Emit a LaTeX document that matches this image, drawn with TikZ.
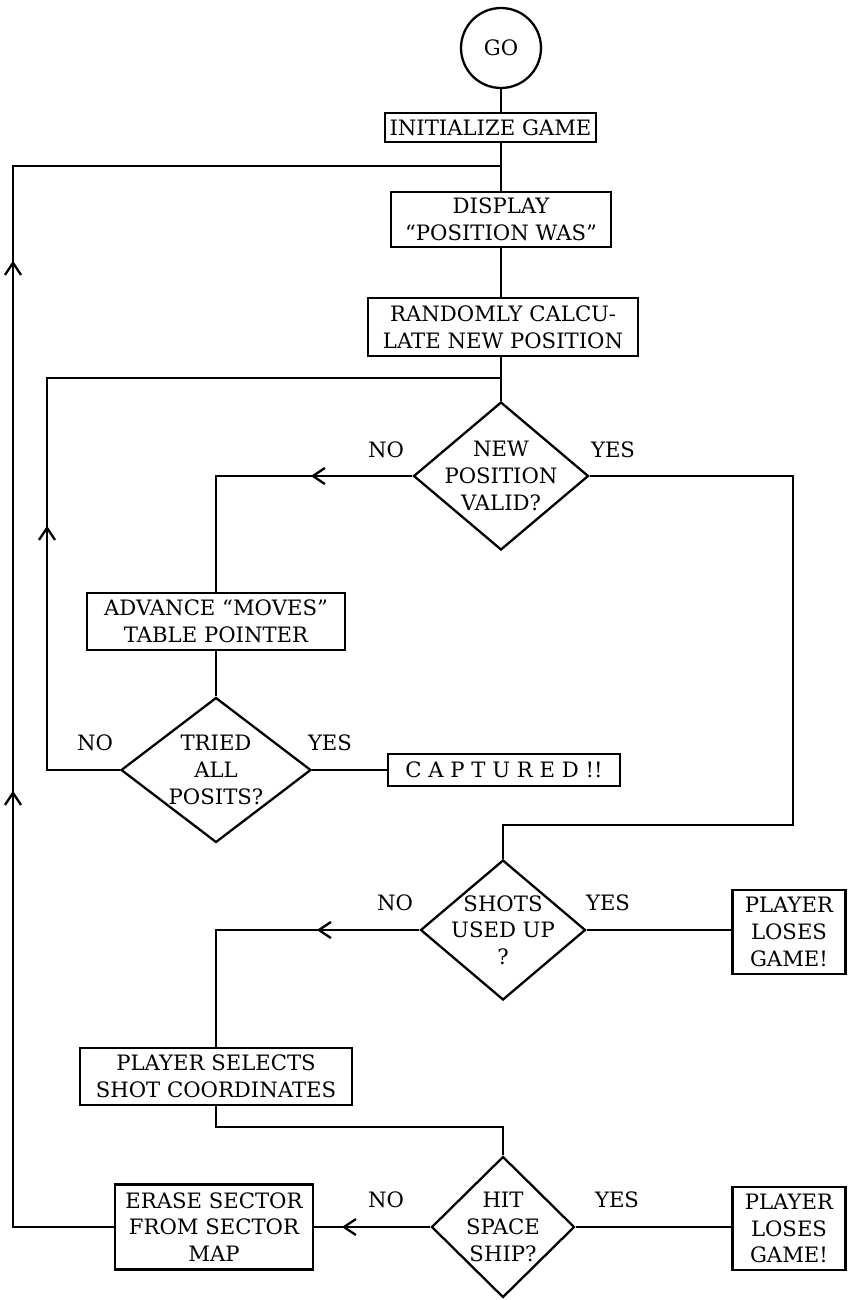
\documentclass[tikz,border=0pt]{standalone}
\usepackage{fontspec}
\setmainfont{DejaVu Serif}
\usetikzlibrary{shapes.geometric,arrows.meta,decorations.markings}
\begin{document}
\begin{tikzpicture}[x=0.5pt,y=-0.5pt,line width=1.15pt,
  every node/.style={font=\fontsize{10.6}{13.3}\selectfont},
  box/.style={draw,rectangle,inner sep=0pt,align=center},
  decision/.style={draw,diamond,inner sep=-8pt,align=center},
  lbl/.style={inner sep=0pt},
  arrowat/.style={postaction={decorate,decoration={markings,
     mark=at position #1 with {\arrow{Straight Barb[length=6pt,width=8pt]}}}}}]
\useasboundingbox (0,0) rectangle (847,1300);

% nodes
\node[draw,circle,minimum size=40pt,inner sep=0pt] (go) at (501,48) {GO};
\node[box,minimum width=105.5pt,minimum height=14.5pt] (init) at (490.5,127.5) {INITIALIZE GAME};
\node[box,minimum width=110pt,minimum height=27.5pt] (display) at (501,219.5) {DISPLAY\\``POSITION WAS''};
\node[box,minimum width=135pt,minimum height=29pt] (random) at (503,327) {RANDOMLY CALCU-\\LATE NEW POSITION};
\node[decision,minimum width=87.5pt,minimum height=74pt] (new) at (501,476) {NEW\\POSITION\\VALID?};
\node[box,minimum width=129pt,minimum height=28.5pt] (advance) at (216,621.5) {ADVANCE ``MOVES''\\TABLE POINTER};
\node[decision,minimum width=95pt,minimum height=72.5pt] (tried) at (216,770) {TRIED\\ALL\\POSITS?};
\node[box,minimum width=116pt,minimum height=16pt] (captured) at (504,770) {C A P T U R E D !!};
\node[decision,minimum width=82.5pt,minimum height=70pt] (shots) at (503,930) {SHOTS\\USED UP\\?};
\node[box,minimum width=56.5pt,minimum height=42pt] (lose1) at (789,932) {PLAYER\\LOSES\\GAME!};
\node[box,minimum width=136pt,minimum height=28.5pt] (select) at (216,1076.5) {PLAYER SELECTS\\SHOT COORDINATES};
\node[decision,minimum width=71.5pt,minimum height=70.5pt] (hit) at (503,1227) {HIT\\SPACE\\SHIP?};
\node[box,minimum width=99pt,minimum height=42.5pt] (erase) at (214,1227) {ERASE SECTOR\\FROM SECTOR\\MAP};
\node[box,minimum width=56.5pt,minimum height=41.5pt] (lose2) at (789,1228.5) {PLAYER\\LOSES\\GAME!};

% labels
\node[lbl] (l1) at (386,450) {NO};
\node[lbl] (l2) at (613,450) {YES};
\node[lbl] (l3) at (95,743) {NO};
\node[lbl] (l4) at (330,743) {YES};
\node[lbl] (l5) at (395,903) {NO};
\node[lbl] (l6) at (608,903) {YES};
\node[lbl] (l7) at (386,1200) {NO};
\node[lbl] (l8) at (617,1200) {YES};

% coordinates
\coordinate (j1) at (501,166);
\coordinate (j2) at (501,378);
\coordinate (c1) at (47,770);
\coordinate (c2) at (13,1227);
\coordinate (r1) at (793,825);
\coordinate (s1) at (503,1127);

% connectors
\draw (go.south) -- (go.south |- init.north);
\draw (go.south |- init.south) -- (display.north);
\draw (display.south) -- (display.south |- random.north);
\draw (new.north |- random.south) -- (new.north);
\draw[arrowat=50.75pt] (new.west) -- (new.west -| advance.north) -- (advance.north);
\draw (advance.south) -- (tried.north);
\draw (tried.east) -- (captured.west);
\draw[arrowat=158.5pt] (tried.west) -- (c1) -- (c1 |- j2) -- (j2);
\draw (new.east) -- (new.east -| r1) -- (r1) -- (r1 -| shots.north) -- (shots.north);
\draw (shots.east) -- (shots.east -| lose1.west);
\draw[arrowat=51.25pt] (shots.west) -- (shots.west -| select.north) -- (select.north);
\draw (select.south) -- (select.south |- s1) -- (s1) -- (hit.north);
\draw (hit.east) -- (hit.east -| lose2.west);
\draw[arrowat=44.25pt] (hit.west) -- (erase.east);
\draw[arrowat=268.5pt,arrowat=533.5pt] (erase.west) -- (c2) -- (c2 |- j1) -- (j1);
\end{tikzpicture}
\end{document}
